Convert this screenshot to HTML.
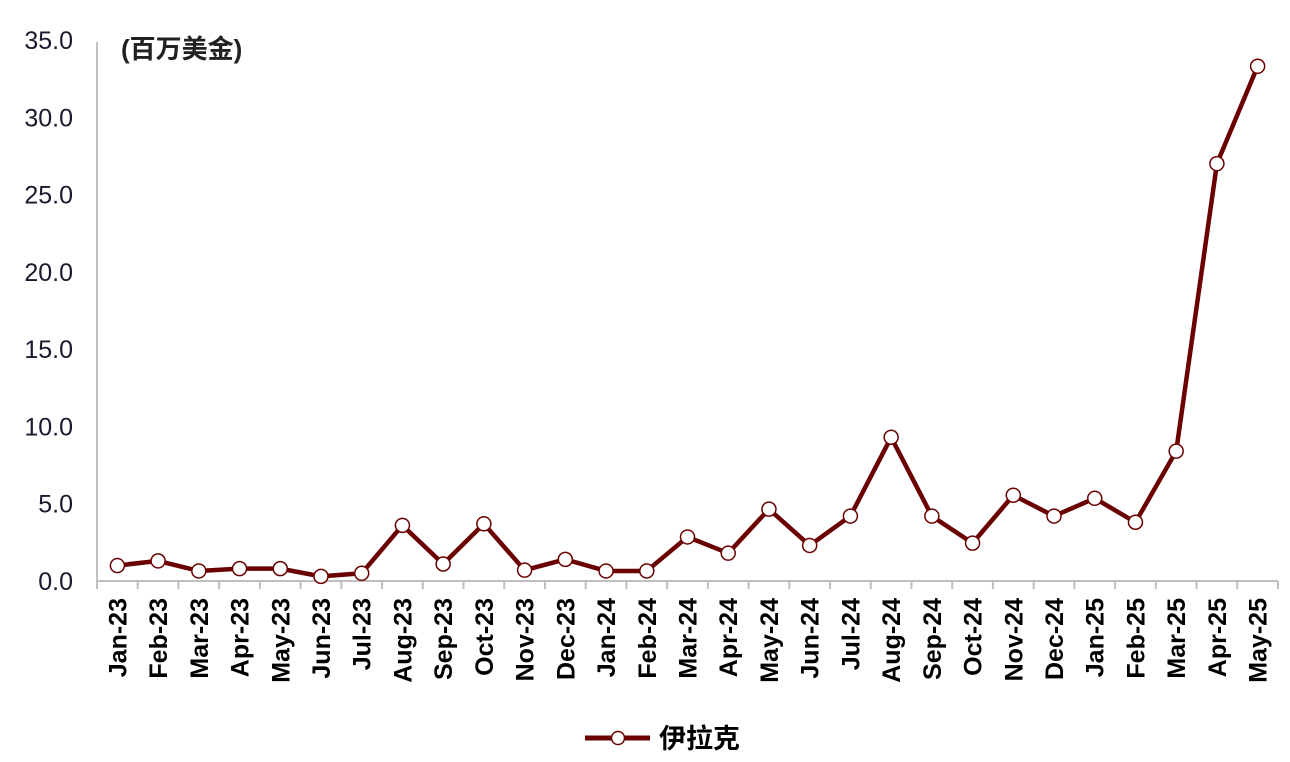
<!DOCTYPE html>
<html><head><meta charset="utf-8">
<style>
body{margin:0;background:#fff;}
svg{display:block;font-family:"Liberation Sans","Noto Sans CJK SC",sans-serif;}
</style></head>
<body>
<svg id="chart" width="1290" height="762" viewBox="0 0 1290 762" xmlns="http://www.w3.org/2000/svg">
<g id="axes"></g>
<g id="series"></g>
<text x="121" y="58" font-size="26" font-weight="bold" fill="#222">(百万美金)</text>
<g>
<line x1="585" y1="738" x2="650" y2="738" stroke="#6b0000" stroke-width="5"/>
<circle cx="618" cy="738" r="6.5" fill="#fff" stroke="#6b0000" stroke-width="1.5"/>
<text x="659" y="748" font-size="27" font-weight="bold" fill="#000">伊拉克</text>
</g>
</svg>
<script>
const categories=["Jan-23","Feb-23","Mar-23","Apr-23","May-23","Jun-23","Jul-23","Aug-23","Sep-23","Oct-23","Nov-23","Dec-23","Jan-24","Feb-24","Mar-24","Apr-24","May-24","Jun-24","Jul-24","Aug-24","Sep-24","Oct-24","Nov-24","Dec-24","Jan-25","Feb-25","Mar-25","Apr-25","May-25"];
const values=[1.0,1.3,0.65,0.8,0.8,0.3,0.5,3.6,1.1,3.7,0.7,1.4,0.65,0.65,2.85,1.8,4.65,2.3,4.2,9.3,4.2,2.45,5.55,4.2,5.35,3.8,8.4,27.0,33.3];
const yTicks=[0,5,10,15,20,25,30,35];
const yTickLabels=["0.0","5.0","10.0","15.0","20.0","25.0","30.0","35.0"];

const NS="http://www.w3.org/2000/svg";
const X0=97,X1=1278,Y0=581,Y1=40,YMAX=35;
const bw=(X1-X0)/categories.length;
const x=i=>X0+bw*(i+0.5);
const y=v=>Y0-(v/YMAX)*(Y0-Y1);
function mk(tag,attrs,parent){const e=document.createElementNS(NS,tag);for(const k in attrs)e.setAttribute(k,attrs[k]);parent.appendChild(e);return e;}
const axes=document.getElementById('axes'),series=document.getElementById('series');

let a=mk('line',{x1:X0,y1:42,x2:X0,y2:Y0,stroke:'#bfbfbf','stroke-width':2},axes);


a=mk('line',{x1:X0,y1:Y0,x2:X1,y2:Y0,stroke:'#bfbfbf','stroke-width':2},axes);



yTicks.forEach((t,i)=>{
  const tx=mk('text',{x:73,y:y(t)+9,'text-anchor':'end','font-size':25,fill:'#1a1a2e'},axes);
  tx.textContent=yTickLabels[i];
  
  
});
for(let i=0;i<=categories.length;i++){
  const tk=mk('line',{x1:X0+bw*i,y1:Y0,x2:X0+bw*i,y2:Y0+8,stroke:'#bfbfbf','stroke-width':2},axes);
  
  
}
categories.forEach((c,i)=>{
  const cx=x(i)+9,cy=598;
  const tx=mk('text',{x:cx,y:cy,'text-anchor':'end','font-size':25,'font-weight':'bold',fill:'#000',transform:`rotate(-90 ${cx} ${cy})`},axes);
  tx.textContent=c;
  
  
});

const pl=mk('polyline',{points:values.map((v,i)=>x(i)+','+y(v)).join(' '),fill:'none',stroke:'#6b0000','stroke-width':4.5,'stroke-linejoin':'round'},series);


values.forEach((v,i)=>{
  const c=mk('circle',{cx:x(i),cy:y(v),r:7,fill:'#fff',stroke:'#6b0000','stroke-width':1.5},series);
  
  
});
</script>
</body></html>
